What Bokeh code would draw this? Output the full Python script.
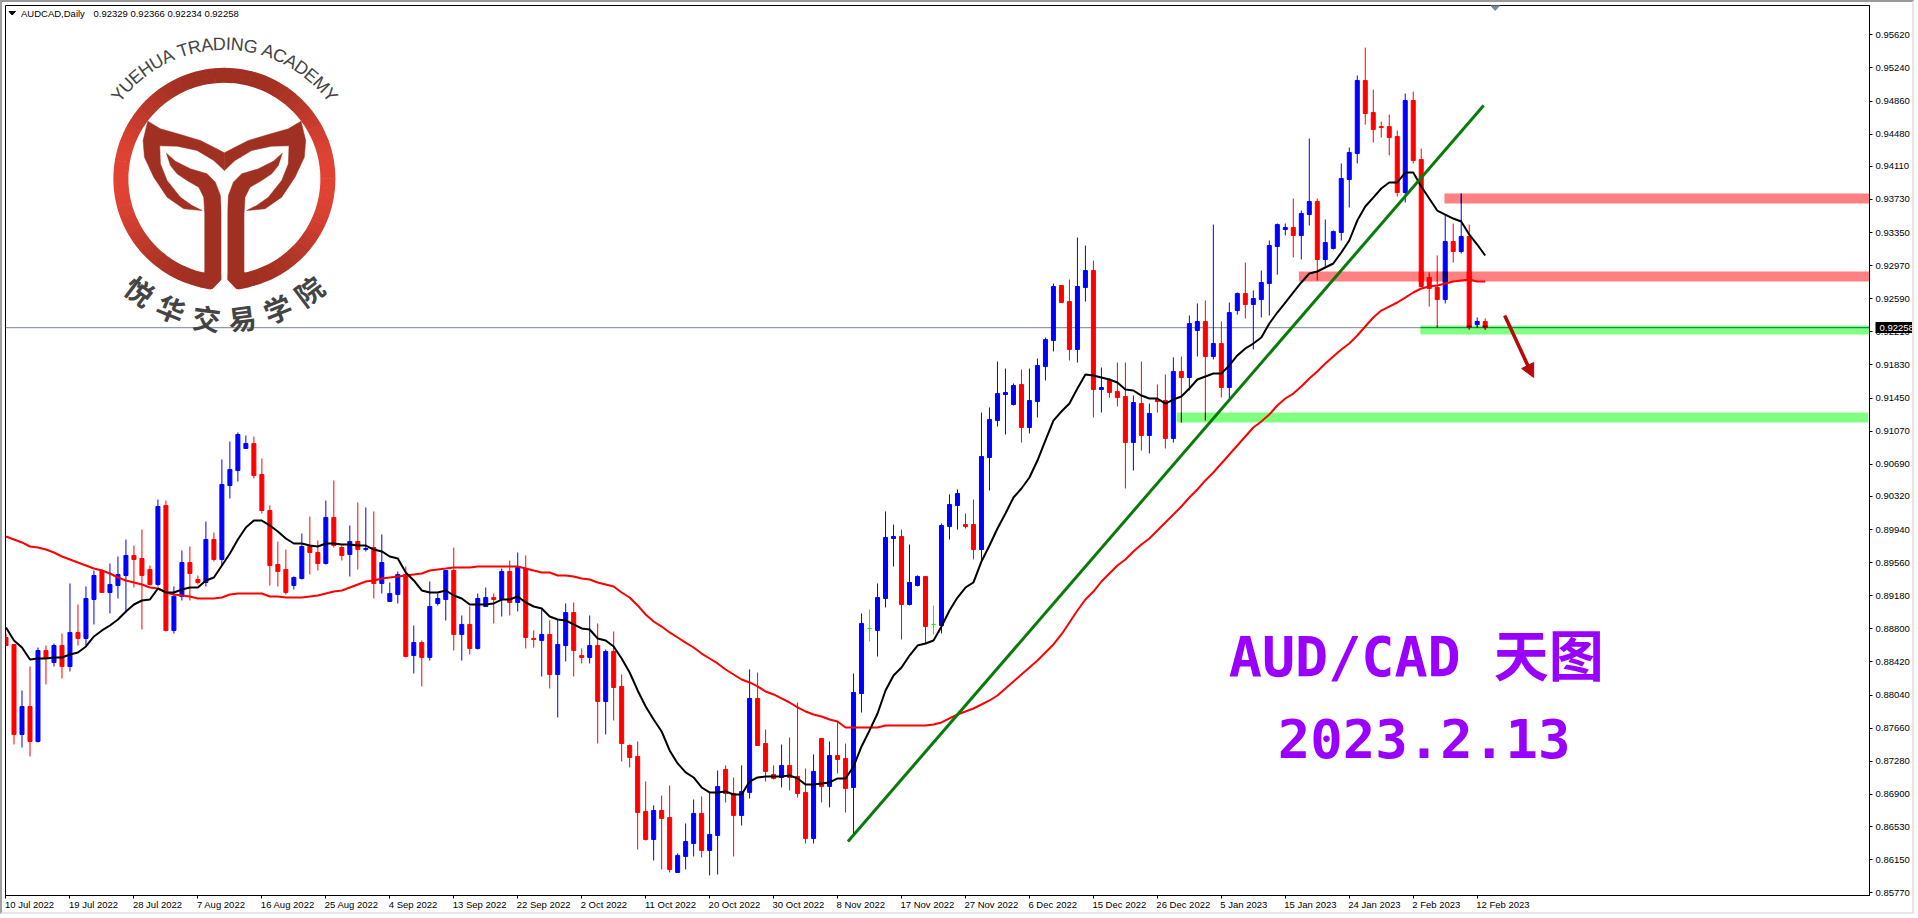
"""AUDCAD daily candles with moving averages, levels and the academy logo."""
import math

import numpy as np
import pandas as pd
from bokeh.core.properties import value
from bokeh.embed import file_html
from bokeh.models import ColumnDataSource, FixedTicker, Label, LinearAxis, NumeralTickFormatter, Range1d
from bokeh.plotting import figure
from bokeh.resources import INLINE

# prices are kept in broker points (0.00001)
opens = [
    88701, 88621, 87588, 87909, 87507, 88552, 88414, 88609, 88368, 88759,
    88690, 89137, 89470, 89218, 89298, 89413, 89643, 89608, 89482, 89310,
    90217, 88782, 89172, 89562, 89367, 89333, 89826, 89597, 90446, 90618,
    90871, 90928, 90572, 90159, 89539, 89482, 89298, 89378, 89746, 89677,
    89551, 90079, 89734, 89654, 89803, 89711, 89734, 89321, 89115, 89195,
    89425, 88494, 88643, 88472, 89092, 89137, 89470, 88736, 88851, 88575,
    89057, 89160, 89137, 89459, 89103, 89493, 88690, 88667, 88736, 88276,
    88609, 88988, 88494, 88472, 88609, 87967, 88541, 88139, 87461, 87335,
    86704, 86382, 86715, 86635, 86003, 86187, 86336, 86681, 86256, 86428,
    87186, 86910, 86658, 86922, 88001, 87484, 87129, 87094, 87232, 87106,
    86922, 86394, 87542, 86991, 87346, 87312, 86979, 88058, 88805, 88782,
    89149, 89838, 89861, 89080, 89298, 89402, 88851, 88839, 89975, 90217,
    89998, 89998, 89711, 90768, 91192, 91491, 91376, 91606, 91112, 91410,
    91812, 92111, 92742, 92558, 92008, 92719, 92914, 91548, 91652, 91525,
    91468, 90940, 91387, 91020, 91433, 91422, 90986, 91755, 91686, 92226,
    92329, 91927, 92076, 91571, 92455, 92650, 92524, 92581, 92765, 93190,
    93385, 93408, 93316, 93557, 93707, 93041, 93167, 93351, 93959, 94258,
    95096, 94728, 94567, 94567, 94453, 93810, 94866, 94189, 92834, 92719,
    92581, 93247, 93133, 93305, 92294, 92329,
]
highs = [
    88747, 88621, 88093, 88368, 88586, 88609, 88632, 88747, 89321, 89080,
    89287, 89470, 89482, 89551, 89631, 89826, 89757, 89941, 89528, 90285,
    90274, 89287, 89700, 89746, 89413, 90033, 89907, 90745, 90951, 91055,
    91020, 91009, 90756, 90217, 89803, 89711, 89402, 89895, 90090, 89815,
    90274, 90504, 89757, 89987, 90251, 90194, 90148, 89884, 89333, 89459,
    89516, 88839, 88667, 89344, 89206, 89470, 89734, 88954, 89057, 89206,
    89275, 89206, 89493, 89585, 89677, 89643, 88782, 89023, 88896, 88908,
    89092, 89103, 88575, 88954, 88862, 88563, 88770, 88276, 87473, 87507,
    87048, 86773, 86887, 87002, 86222, 86566, 86841, 86876, 86922, 87174,
    87232, 87094, 87232, 88334, 88299, 87645, 87232, 87473, 87553, 87955,
    87197, 87358, 87542, 87507, 87737, 87484, 88288, 88977, 89023, 89321,
    90148, 89998, 89941, 89769, 89413, 89402, 89069, 90010, 90343, 90400,
    90125, 90285, 91284, 91342, 91870, 91789, 91617, 91778, 91789, 91904,
    92145, 92765, 92742, 92811, 93293, 93201, 93029, 91801, 91675, 91858,
    91858, 91479, 91870, 91387, 91606, 91720, 91916, 91927, 92398, 92536,
    92570, 93442, 92329, 92547, 92662, 93006, 92685, 92914, 93259, 93454,
    93454, 93741, 93603, 94430, 93741, 93500, 93374, 94143, 94326, 95153,
    95474, 94992, 94625, 94705, 94522, 94946, 94969, 94315, 92891, 93087,
    93557, 93454, 93798, 93442, 92375, 92366,
]
lows = [
    88609, 87473, 87438, 87335, 87496, 88162, 88368, 88230, 88311, 88609,
    88609, 88851, 89218, 88977, 89149, 88988, 89275, 88793, 89298, 89287,
    88770, 88747, 89126, 89126, 89310, 89287, 89574, 89528, 90297, 90492,
    90871, 90527, 90125, 89298, 89287, 89195, 89252, 89367, 89425, 89470,
    89539, 89734, 89585, 89402, 89482, 89689, 89149, 89206, 89115, 89092,
    88472, 88288, 88139, 88437, 89069, 88896, 88552, 88437, 88506, 88563,
    89057, 88862, 88942, 88954, 89000, 88575, 88586, 88253, 88116, 87783,
    88426, 88253, 88403, 88403, 87484, 87588, 87748, 87278, 87209, 86267,
    86371, 86141, 86038, 86003, 86003, 86038, 86187, 86176, 85969, 85980,
    86807, 86187, 86543, 86853, 87461, 87048, 87071, 86979, 86945, 86864,
    86336, 86336, 86807, 86750, 87140, 86692, 86428, 87840, 88655, 88483,
    89046, 89516, 88678, 89069, 89287, 88632, 88736, 88747, 89826, 89941,
    89953, 89597, 89562, 90389, 91124, 91032, 91365, 90940, 91043, 91227,
    91652, 91985, 92547, 91881, 91858, 92558, 91227, 91284, 91456, 91353,
    90412, 90618, 90848, 90814, 91284, 90871, 90940, 91169, 91537, 91927,
    91192, 91893, 91456, 91445, 92409, 92363, 92008, 92375, 92398, 92868,
    93316, 93064, 93041, 93431, 92800, 92949, 93155, 93259, 93638, 94143,
    94590, 94384, 94441, 94235, 93764, 93695, 94143, 92731, 92501, 92260,
    92536, 93006, 93110, 92237, 92260, 92234,
]
closes = [
    88609, 87588, 87909, 87507, 88552, 88460, 88609, 88368, 88759, 88690,
    89149, 89413, 89218, 89310, 89425, 89643, 89597, 89413, 89310, 90205,
    88782, 89172, 89562, 89436, 89333, 89826, 89597, 90458, 90630, 91032,
    90928, 90561, 90159, 89528, 89459, 89218, 89390, 89746, 89677, 89551,
    90079, 89757, 89643, 89803, 89711, 89723, 89321, 89562, 89206, 89425,
    88483, 88643, 88472, 89057, 89149, 89470, 88736, 88851, 88575, 89149,
    89160, 89137, 89459, 89103, 89505, 88701, 88678, 88736, 88276, 88621,
    88988, 88552, 88472, 88609, 87967, 88541, 88127, 87484, 87323, 86692,
    86382, 86715, 86623, 86038, 86199, 86359, 86681, 86256, 86440, 86991,
    86910, 86658, 86933, 88001, 87461, 87163, 87083, 87232, 87094, 86910,
    86394, 87163, 86991, 87346, 87300, 86968, 88070, 88862, 88805, 89160,
    89849, 89861, 89080, 89333, 89402, 88827, 88851, 89987, 90228, 90354,
    89975, 89711, 90779, 91204, 91502, 91514, 91594, 91112, 91422, 91824,
    92122, 92731, 92547, 92008, 92731, 92914, 91548, 91571, 91514, 91456,
    90940, 91399, 91020, 91273, 91410, 90986, 91755, 91686, 92306, 92329,
    91927, 92076, 91571, 92432, 92650, 92524, 92593, 92777, 93201, 93442,
    93408, 93316, 93569, 93707, 93041, 93236, 93362, 93971, 94269, 95096,
    94717, 94533, 94556, 94441, 93810, 94866, 94177, 92731, 92708, 92581,
    93247, 93133, 93305, 92260, 92329, 92258,
]
ma_fast = [
    88816, 88667, 88586, 88449, 88460, 88460, 88472, 88472, 88506, 88529,
    88598, 88713, 88782, 88839, 88908, 89000, 89080, 89126, 89137, 89264,
    89218, 89218, 89252, 89275, 89275, 89356, 89390, 89528, 89666, 89826,
    89964, 90044, 90044, 89987, 89918, 89838, 89780, 89780, 89757, 89746,
    89780, 89780, 89769, 89769, 89757, 89757, 89711, 89689, 89631, 89608,
    89447, 89356, 89241, 89218, 89218, 89241, 89183, 89149, 89080, 89080,
    89080, 89092, 89137, 89137, 89172, 89103, 89057, 89034, 88942, 88908,
    88896, 88851, 88805, 88793, 88690, 88667, 88598, 88460, 88299, 88093,
    87909, 87760, 87622, 87404, 87255, 87152, 87094, 86979, 86922, 86922,
    86933, 86899, 86899, 87048, 87094, 87106, 87106, 87106, 87117, 87083,
    87014, 87014, 87025, 87037, 87083, 87083, 87220, 87450, 87634, 87829,
    88093, 88265, 88357, 88494, 88609, 88632, 88667, 88827, 89011, 89160,
    89275, 89333, 89574, 89757, 89953, 90125, 90308, 90412, 90538, 90733,
    90963, 91192, 91296, 91387, 91560, 91720, 91709, 91686, 91663, 91629,
    91548, 91537, 91479, 91445, 91445, 91387, 91433, 91468, 91560, 91663,
    91698, 91732, 91732, 91824, 91939, 92019, 92076, 92145, 92306, 92432,
    92547, 92662, 92777, 92880, 92903, 92949, 92995, 93121, 93259, 93488,
    93649, 93752, 93856, 93925, 93925, 94039, 94039, 93879, 93741, 93603,
    93557, 93511, 93477, 93328, 93213, 93087,
]
ma_slow = [
    89861, 89826, 89792, 89746, 89734, 89711, 89677, 89631, 89597, 89562,
    89528, 89493, 89470, 89436, 89390, 89356, 89333, 89310, 89275, 89264,
    89218, 89195, 89183, 89172, 89149, 89149, 89149, 89160, 89195, 89206,
    89206, 89206, 89206, 89172, 89172, 89160, 89160, 89160, 89172, 89183,
    89206, 89229, 89241, 89275, 89310, 89344, 89356, 89378, 89390, 89402,
    89413, 89425, 89436, 89470, 89482, 89493, 89505, 89505, 89505, 89516,
    89516, 89516, 89516, 89516, 89516, 89493, 89470, 89447, 89447, 89413,
    89413, 89402, 89378, 89367, 89333, 89310, 89287, 89218, 89160, 89069,
    88965, 88885, 88827, 88759, 88701, 88643, 88586, 88517, 88460, 88403,
    88334, 88276, 88219, 88185, 88139, 88081, 88047, 88001, 87955, 87898,
    87852, 87817, 87794, 87760, 87737, 87668, 87668, 87668, 87668, 87668,
    87691, 87691, 87691, 87691, 87691, 87691, 87703, 87726, 87772, 87817,
    87852, 87886, 87932, 87978, 88035, 88116, 88196, 88276, 88357, 88437,
    88529, 88621, 88736, 88874, 89011, 89137, 89229, 89344, 89436, 89528,
    89597, 89689, 89769, 89838, 89930, 90021, 90113, 90205, 90308, 90400,
    90504, 90595, 90699, 90802, 90905, 91009, 91112, 91181, 91261, 91365,
    91445, 91502, 91583, 91675, 91755, 91847, 91927, 92008, 92076, 92168,
    92272, 92375, 92455, 92501, 92547, 92604, 92662, 92708, 92731, 92742,
    92765, 92788, 92800, 92811, 92788, 92788,
]
date_labels = [
    "10 Jul 2022", "19 Jul 2022", "28 Jul 2022", "7 Aug 2022", "16 Aug 2022", "25 Aug 2022",
    "4 Sep 2022", "13 Sep 2022", "22 Sep 2022", "2 Oct 2022", "11 Oct 2022", "20 Oct 2022",
    "30 Oct 2022", "8 Nov 2022", "17 Nov 2022", "27 Nov 2022", "6 Dec 2022", "15 Dec 2022",
    "26 Dec 2022", "5 Jan 2023", "15 Jan 2023", "24 Jan 2023", "2 Feb 2023", "12 Feb 2023",
]
price_ticks = [
    0.95620, 0.95240, 0.94860, 0.94480, 0.94110, 0.93730, 0.93350, 0.92970, 0.92590,
    0.92210, 0.91830, 0.91450, 0.91070, 0.90690, 0.90320, 0.89940, 0.89560, 0.89180,
    0.88800, 0.88420, 0.88040, 0.87660, 0.87280, 0.86900, 0.86530, 0.86150, 0.85770,
]
last_price = 0.92258
ohlc_values = ["0.92329 0.92366 0.92234 0.92258"]

# drawn levels: first bar, last bar, upper and lower price
zone_left = [179.9, 161.7, 176.9, 146.4]
zone_right = [233.3, 233.1, 233.1, 232.9]
zone_top = [0.93798, 0.92903, 0.92283, 0.91284]
zone_bottom = [0.93684, 0.92788, 0.92180, 0.91169]
zone_color = ["#ff8080", "#ff8080", "#80ff80", "#80ff80"]
trend_x = [105.3, 184.8]
trend_y = [0.86359, 0.94808]

BAR_STEP = 8
FRAME_LEFT, FRAME_TOP, FRAME_RIGHT, FRAME_BOTTOM = 5, 5, 1870, 895
PRICE_TOP, PRICE_BOTTOM = 0.95957, 0.85739
UI_FONT = "Liberation Sans"
UI_SIZE = "9.5px"
# letter widths of the month names, in em, to start each date at its tick
MONTH_EM = {"Jul": 1.278, "Aug": 1.779, "Sep": 1.779, "Oct": 1.556, "Nov": 1.778, "Dec": 1.778, "Jan": 1.612, "Feb": 1.723}


def to_x(px):
    return (px - FRAME_LEFT - 0.5) / BAR_STEP


def to_y(py):
    span = (PRICE_TOP - PRICE_BOTTOM) / (FRAME_BOTTOM - FRAME_TOP)
    return PRICE_TOP - (py - FRAME_TOP) * span


def multiply(color_a, color_b):
    """Colour of a bar seen through a level, the terminal blends them this way."""
    channels = []
    for k in (1, 3, 5):
        channels.append(int(color_a[k:k + 2], 16) * int(color_b[k:k + 2], 16) // 255)
    return "#%02x%02x%02x" % tuple(channels)


def draw_bars_through_zones(pic, frame):
    wicks = {"x": [], "low": [], "high": [], "color": []}
    bodies = {"x": [], "low": [], "high": [], "color": []}
    for left, right, top, bottom, tint in zip(zone_left, zone_right, zone_top, zone_bottom, zone_color):
        for row in frame.itertuples():
            if not left <= row.x <= right:
                continue
            shade = multiply(row.color, tint)
            low, high = max(row.low, bottom), min(row.high, top)
            if low < high:
                wicks["x"].append(row.x)
                wicks["low"].append(low)
                wicks["high"].append(high)
                wicks["color"].append(shade)
            low, high = max(row.bottom, bottom), min(row.top, top)
            if low < high:
                bodies["x"].append(row.x)
                bodies["low"].append(low)
                bodies["high"].append(high)
                bodies["color"].append(shade)
    pic.segment(x0=wicks["x"], x1=wicks["x"], y0=wicks["low"], y1=wicks["high"], color=wicks["color"], line_width=1)
    pic.vbar(
        x=bodies["x"], width=5 / BAR_STEP, top=bodies["high"], bottom=bodies["low"],
        fill_color=bodies["color"], line_color=None,
    )


def logo_patch(pic, points, color):
    """Draw an outline given in thirds of a pixel, with its mirror image."""
    for mirror in (False, True):
        xs = [to_x((1344 - x if mirror else x) / 3) for x, _ in points]
        ys = [to_y(y / 3) for _, y in points]
        pic.patch(xs, ys, fill_color=color, line_color=color, line_width=0.5)


def draw_logo(pic):
    cx, cy = 224, 178.3
    dark = "#a03022"
    steps = 72
    starts = [2 * math.pi * k / steps for k in range(steps)]
    ends = [s + 2 * math.pi / steps + 0.005 for s in starts]
    shades = []
    for s in starts:
        mix = abs(math.cos(s + math.pi / steps)) ** 3
        shades.append("#%02x%02x%02x" % (int(160 + 66 * mix), int(48 + 20 * mix), int(34 + 18 * mix)))
    pic.annular_wedge(
        to_x(cx), to_y(cy), inner_radius=96, outer_radius=111,
        inner_radius_units="screen", outer_radius_units="screen",
        start_angle=starts, end_angle=ends, fill_color=shades, line_color=None,
    )
    outer_leaf = [
        (442, 362), (480, 385), (540, 402), (600, 420), (640, 440), (672, 457), (672, 510), (640, 480),
        (590, 450), (530, 437), (478, 436), (480, 490), (500, 540), (540, 590), (575, 615), (605, 630),
        (550, 625), (500, 590), (460, 530), (432, 470), (428, 420),
    ]
    inner_leaf = [
        (498, 458), (525, 482), (570, 505), (620, 520), (645, 545), (660, 585), (663, 640), (663, 840),
        (650, 856), (630, 866), (600, 860), (560, 845), (613, 815), (613, 640), (610, 590), (595, 560),
        (560, 540), (530, 520), (510, 495),
    ]
    logo_patch(pic, outer_leaf, dark)
    logo_patch(pic, inner_leaf, dark)
    slit = [(663, 560), (681, 560), (681, 838), (714, 872), (630, 872), (663, 838)]
    pic.patch(
        [to_x(x / 3) for x, _ in slit], [to_y(y / 3) for _, y in slit],
        fill_color="white", line_color=None,
    )

    # english name on the upper arc, spaced by letter width
    name = "YUEHUA TRADING ACADEMY"
    widths = [.667, .722, .667, .722, .722, .667, .278, .611, .722, .667, .722, .278, .722, .778, .278,
              .667, .722, .667, .722, .667, .833, .667]
    size, radius = 18, 135
    total = sum(widths) * size
    run = 0
    xs, ys, angles = [], [], []
    for w in widths:
        theta = (run + w * size / 2 - total / 2) / radius
        run += w * size
        xs.append(to_x(cx + radius * math.sin(theta)))
        ys.append(to_y(cy - radius * math.cos(theta)))
        angles.append(-theta)
    pic.text(
        xs, ys, text=list(name), angle=angles, text_font=value("Liberation Sans"),
        text_font_size="18px", text_color="#444444", text_align="center", text_baseline="middle",
    )

    # chinese name on the lower arc
    name_cn = "悦华交易学院"
    degrees = [37, 22.3, 7.3, -7.3, -22.3, -37]
    radius = 140
    xs = [to_x(cx - radius * math.sin(math.radians(d))) for d in degrees]
    ys = [to_y(cy + radius * math.cos(math.radians(d))) for d in degrees]
    pic.text(
        xs, ys, text=list(name_cn), angle=[-math.radians(d) for d in degrees],
        text_font=value("Noto Sans CJK SC"), text_font_style="bold", text_font_size="28px",
        text_color="#444444", text_align="center", text_baseline="middle",
    )


bars = pd.DataFrame({"open": opens, "high": highs, "low": lows, "close": closes}) / 1e5
bars["x"] = np.arange(len(bars))
bars["top"] = bars[["open", "close"]].max(axis=1)
bars["bottom"] = bars[["open", "close"]].min(axis=1)
bars["color"] = np.where(bars.close > bars.open, "#0000ff", np.where(bars.close < bars.open, "#ff0000", "#00ff00"))
source = ColumnDataSource(bars)

# the css border stands for the terminal window round the chart
p = figure(
    width=1914, height=914, output_backend="svg", toolbar_location=None,
    x_range=Range1d(to_x(FRAME_LEFT), to_x(FRAME_RIGHT)), y_range=Range1d(PRICE_BOTTOM, PRICE_TOP),
    y_axis_location="right", min_border_left=FRAME_LEFT - 2, min_border_top=FRAME_TOP - 2,
    min_border_right=1916 - FRAME_RIGHT, min_border_bottom=916 - FRAME_BOTTOM,
    styles={
        "border-left": "2px solid #a0a0a0", "border-top": "2px solid #9a9a9a",
        "border-right": "2px solid #e6e6e6", "border-bottom": "2px solid #e6e6e6",
    },
)
p.grid.visible = False
p.outline_line_color = "black"
p.outline_line_width = 1
p.border_fill_color = "white"

p.yaxis.ticker = FixedTicker(ticks=price_ticks)
p.yaxis.formatter = NumeralTickFormatter(format="0.00000")
p.yaxis.major_tick_in = 0
p.yaxis.major_tick_out = 3
p.yaxis.minor_tick_line_color = None
p.yaxis.major_label_standoff = 3
p.yaxis.major_label_text_font = UI_FONT
p.yaxis.major_label_text_font_size = UI_SIZE
p.yaxis.major_label_text_color = "black"
p.yaxis.axis_line_color = "black"

# black flag with the last price: a wide tick of a second axis, pointing back at the chart
flag = LinearAxis(
    ticker=FixedTicker(ticks=[last_price]), formatter=NumeralTickFormatter(format="0.00000"),
    axis_line_color=None, minor_tick_line_color=None, major_tick_in=37, major_tick_out=4,
    major_tick_line_color="black", major_tick_line_width=11, major_label_standoff=-37,
    major_label_text_color="white", major_label_text_font=UI_FONT, major_label_text_font_size=UI_SIZE,
)
p.add_layout(flag, "right")

# tick marks on one axis, dates on the next one so that they start at the tick
tick_bars = [k * BAR_STEP for k in range(len(date_labels))]
p.xaxis.ticker = FixedTicker(ticks=tick_bars)
p.xaxis.major_tick_in = 0
p.xaxis.major_tick_out = 3
p.xaxis.minor_tick_line_color = None
p.xaxis.major_label_overrides = {b: "" for b in tick_bars}
p.xaxis.major_label_standoff = 0
p.xaxis.axis_line_color = "black"

label_ticks = []
for bar, date in zip(tick_bars, date_labels):
    day, month, _ = date.split()
    em = 0.556 * (4 + len(day)) + 0.278 * 2 + MONTH_EM[month]
    label_ticks.append(bar + (em * 9.5 / 2 - 1) / BAR_STEP)
dates = LinearAxis(
    ticker=FixedTicker(ticks=label_ticks), major_label_overrides=dict(zip(label_ticks, date_labels)),
    axis_line_color=None, major_tick_line_color=None, minor_tick_line_color=None,
    major_tick_in=0, major_tick_out=0, major_label_standoff=0,
    major_label_text_color="black", major_label_text_font=UI_FONT, major_label_text_font_size=UI_SIZE,
)
p.add_layout(dates, "below")

p.quad(left=zone_left, right=zone_right, top=zone_top, bottom=zone_bottom, fill_color=zone_color, line_color=None)

p.segment(x0=to_x(FRAME_LEFT), x1=zone_left[2], y0=last_price, y1=last_price, line_color="#778899", line_width=1)
p.segment(x0=zone_left[2], x1=to_x(FRAME_RIGHT), y0=last_price, y1=last_price, line_color="#0c6b4f", line_width=1)

p.segment(x0="x", x1="x", y0="low", y1="high", color="color", line_width=1, source=source)
p.vbar(x="x", width=4 / BAR_STEP, top="top", bottom="bottom", fill_color="color", line_color="color", line_width=1, source=source)
draw_bars_through_zones(p, bars)

p.line(bars.x, np.array(ma_slow) / 1e5, line_color="#ff0000", line_width=2)
p.line(bars.x, np.array(ma_fast) / 1e5, line_color="black", line_width=2)
p.line(trend_x, trend_y, line_color="#0a7a0a", line_width=3)

arrow_color = "#b80808"
p.line([to_x(1505), to_x(1530)], [to_y(315), to_y(369)], line_color=arrow_color, line_width=3.5)
p.patch(
    [to_x(1522), to_x(1534), to_x(1534)], [to_y(368), to_y(362), to_y(377)],
    fill_color=arrow_color, line_color=arrow_color,
)
# chart shift marker and the little menu arrow in the corner
p.patch([to_x(1491), to_x(1500), to_x(1495.5)], [to_y(5), to_y(5), to_y(10)], fill_color="#778899", line_color="#778899")
p.patch([to_x(8.5), to_x(15), to_x(11.7)], [to_y(11), to_y(11), to_y(14.5)], fill_color="black", line_color="black")

draw_logo(p)

p.add_layout(Label(
    x=to_x(20.5), y=to_y(12.5), text="AUDCAD,Daily", text_font=UI_FONT, text_font_size=UI_SIZE,
    text_color="black", text_baseline="alphabetic",
))
p.add_layout(Label(
    x=to_x(93), y=to_y(12.5), text=ohlc_values[0], text_font=UI_FONT, text_font_size=UI_SIZE,
    text_color="black", text_baseline="alphabetic",
))
headline_font = "DejaVu Sans Mono, Noto Sans CJK SC"
p.add_layout(Label(
    x=to_x(1229), y=to_y(656), text="AUD/CAD 天图", text_font=headline_font, text_font_size="55px",
    text_font_style="bold", text_color="#9900ff", text_baseline="alphabetic",
))
p.add_layout(Label(
    x=to_x(1278), y=to_y(738), text="2023.2.13", text_font=headline_font, text_font_size="54px",
    text_font_style="bold", text_color="#9900ff", text_baseline="alphabetic",
))

open("out.html", "w").write(file_html(p, INLINE))
